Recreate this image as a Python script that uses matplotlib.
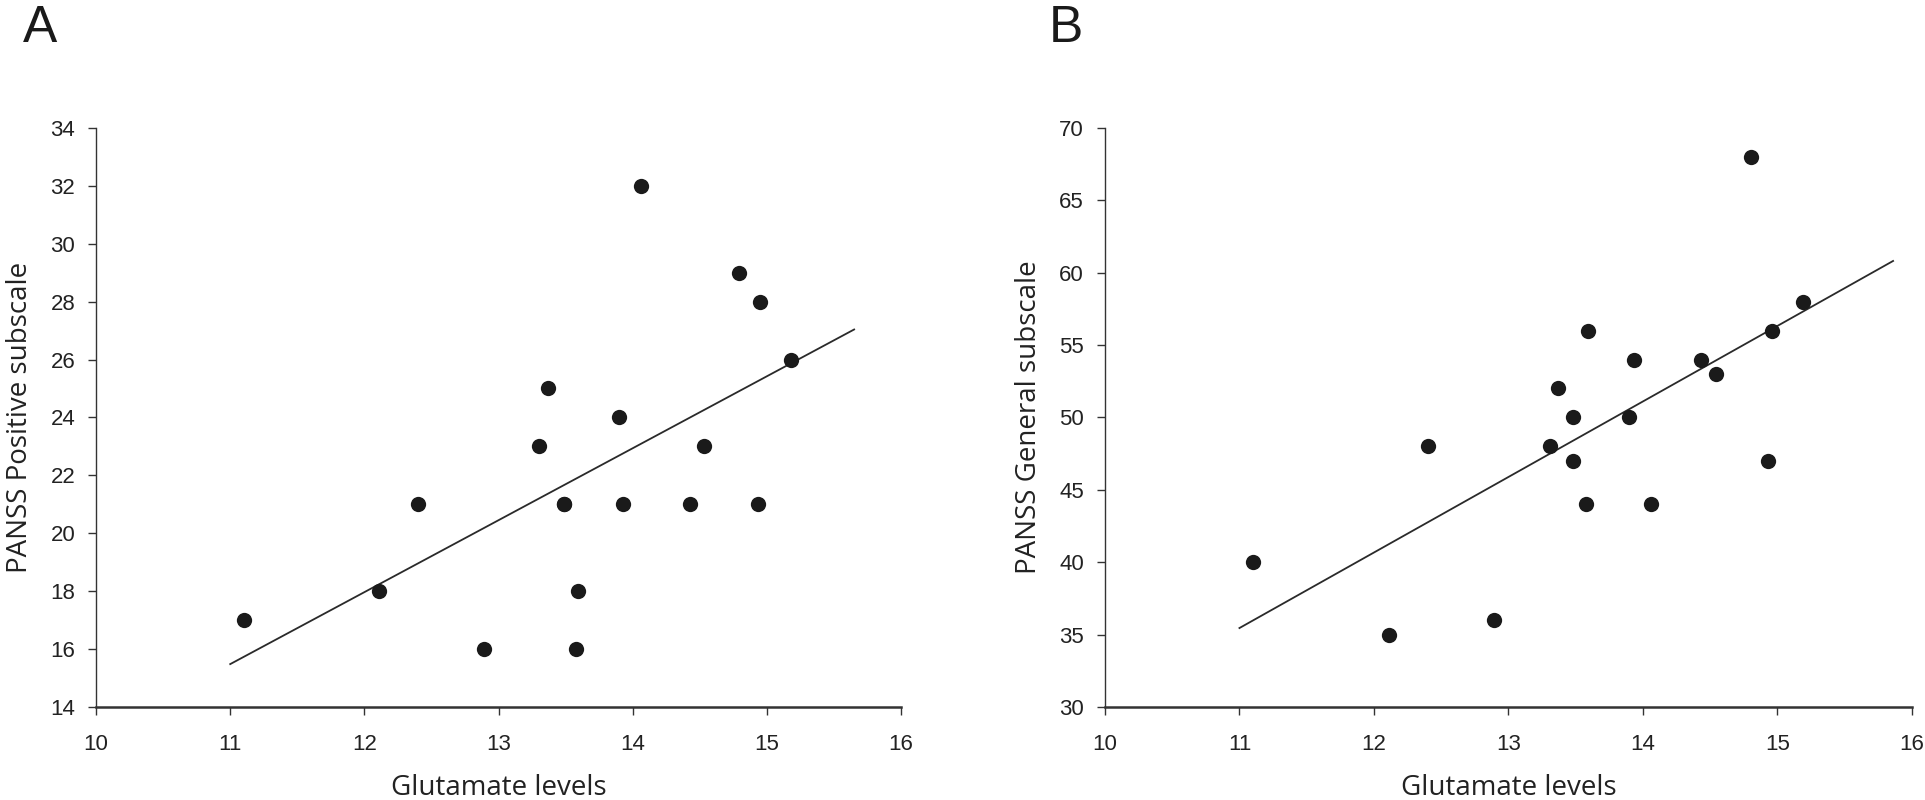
import numpy as np
import matplotlib
matplotlib.use("Agg")
import matplotlib.pyplot as plt

# Panel A: glutamate vs PANSS positive
glu_a = [11.10, 12.11, 12.40, 12.89, 13.30, 13.37, 13.49, 13.49, 13.58, 13.59,
         13.90, 13.93, 14.06, 14.43, 14.53, 14.79, 14.93, 14.95, 15.18]
pos_a = [17, 18, 21, 16, 23, 25, 21, 21, 16, 18,
         24, 21, 32, 21, 23, 29, 21, 28, 26]

# Panel B: glutamate vs PANSS general
glu_b = [11.10, 12.11, 12.40, 12.89, 13.31, 13.37, 13.48, 13.48, 13.58, 13.59,
         13.90, 13.93, 14.06, 14.43, 14.54, 14.80, 14.93, 14.96, 15.19]
gen_b = [40, 35, 48, 36, 48, 52, 50, 47, 44, 56,
         50, 54, 44, 54, 53, 68, 47, 56, 58]

# fitted line ranges
fit_range_a = (11.0, 15.65)
fit_range_b = (11.0, 15.86)

xticks = [10, 11, 12, 13, 14, 15, 16]
yticks_a = [14, 16, 18, 20, 22, 24, 26, 28, 30, 32, 34]
yticks_b = [30, 35, 40, 45, 50, 55, 60, 65, 70]

tick_font = ['Liberation Sans', 'DejaVu Sans']
label_font = ['Open Sans', 'DejaVu Sans']

fig = plt.figure(figsize=(19.25, 8), dpi=100)
ax_a = fig.add_axes([0.0499, 0.1159, 0.4182, 0.7245])
ax_b = fig.add_axes([0.5740, 0.1159, 0.4192, 0.7245])


def draw_panel(ax, x, y, fit_range, yticks, ylabel):
    x = np.array(x)
    y = np.array(y)
    ax.plot(x, y, 'o', color='#1a1a1a', markersize=11, markeredgewidth=0,
            zorder=3, clip_on=False)
    slope, icpt = np.polyfit(x, y, 1)
    xs = np.array(fit_range)
    ax.plot(xs, icpt + slope * xs, color='#2a2a2a', linewidth=1.3)

    ax.set_xlim(xticks[0], xticks[-1])
    ax.set_ylim(yticks[0], yticks[-1])
    ax.set_xticks(xticks)
    ax.set_yticks(yticks)
    for s in ('top', 'right'):
        ax.spines[s].set_visible(False)
    ax.spines['left'].set_linewidth(1.0)
    ax.spines['bottom'].set_linewidth(1.8)
    ax.spines['left'].set_color('#333333')
    ax.spines['bottom'].set_color('#333333')
    ax.tick_params(direction='out', length=6, width=1.0, colors='#333333',
                   labelcolor='#222222', labelsize=16)
    ax.tick_params(axis='x', pad=13)
    ax.tick_params(axis='y', pad=9)
    for lbl in ax.get_xticklabels() + ax.get_yticklabels():
        lbl.set_family(tick_font)
    ax.set_xlabel('Glutamate levels', fontsize=20, family=label_font,
                  color='#222222', labelpad=14)
    ax.set_ylabel(ylabel, fontsize=20, family=label_font, color='#222222',
                  labelpad=12)


draw_panel(ax_a, glu_a, pos_a, fit_range_a, yticks_a, 'PANSS Positive subscale')
draw_panel(ax_b, glu_b, gen_b, fit_range_b, yticks_b, 'PANSS General subscale')

fig.text(0.012, 0.995, 'A', fontsize=37, family=tick_font, va='top', ha='left',
         color='#1a1a1a')
fig.text(0.545, 0.995, 'B', fontsize=37, family=tick_font, va='top', ha='left',
         color='#1a1a1a')

fig.savefig('out.png', dpi=100)
